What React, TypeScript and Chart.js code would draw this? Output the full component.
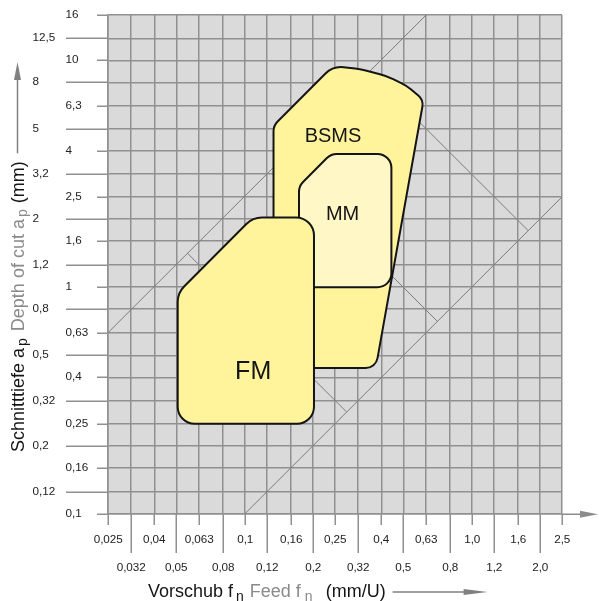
import { useEffect, useRef } from 'react';
import { Chart, registerables } from 'chart.js';

Chart.register(...registerables);

// Feed axis: R10 steps and the printed labels
const FEED_TICKS = [0.025, 0.0315, 0.04, 0.05, 0.063, 0.08, 0.1, 0.125, 0.16, 0.2, 0.25, 0.315, 0.4, 0.5, 0.63, 0.8, 1.0, 1.25, 1.6, 2.0, 2.5];
const FEED_LABELS = ['0,025', '0,032', '0,04', '0,05', '0,063', '0,08', '0,1', '0,12', '0,16', '0,2', '0,25', '0,32', '0,4', '0,5', '0,63', '0,8', '1,0', '1,2', '1,6', '2,0', '2,5'];

// Depth-of-cut axis: R10 steps and the printed labels
const DEPTH_TICKS = [0.1, 0.125, 0.16, 0.2, 0.25, 0.315, 0.4, 0.5, 0.63, 0.8, 1.0, 1.25, 1.6, 2.0, 2.5, 3.15, 4.0, 5.0, 6.3, 8.0, 10, 12.5, 15.85];
const DEPTH_LABELS = ['0,1', '0,12', '0,16', '0,2', '0,25', '0,32', '0,4', '0,5', '0,63', '0,8', '1', '1,2', '1,6', '2', '2,5', '3,2', '4', '5', '6,3', '8', '10', '12,5', '16'];

// Application areas: outline vertices (feed mm/U, depth mm)
const BSMS_FEED = [0.134, 0.134, 0.245, 0.322, 0.424, 0.519, 0.614, 0.378];
const BSMS_DEPTH = [0.44, 5.16, 9.45, 9.16, 8.53, 7.71, 6.69, 0.44];
const MM_FEED = [0.1735, 0.1735, 0.24, 0.443, 0.443];
const MM_DEPTH = [1.0, 2.79, 3.87, 3.87, 1.0];
const FM_FEED = [0.0507, 0.202, 0.202, 0.1086, 0.0507];
const FM_DEPTH = [0.25, 0.25, 2.03, 2.03, 0.943];

// Area names and where they are written
const AREA_NAMES = ['BSMS', 'MM', 'FM'];
const AREA_LABEL_FEED = [0.245, 0.27, 0.109];
const AREA_LABEL_DEPTH = [4.62, 2.1, 0.421];

// Thin guide lines (start / end)
const GUIDE_FEED = [[0.025, 0.63], [0.1, 2.5], [0.056, 0.281], [0.353, 1.77], [0.141, 0.705]];
const GUIDE_DEPTH = [[0.63, 15.85], [0.1, 2.5], [1.41, 0.282], [8.9, 1.78], [3.55, 0.708]];

const FONT = '"Liberation Sans", Arial, Helvetica, sans-serif';
const GRID = '#909090';
const GREY_TEXT = '#8a8a8a';
const INK = '#151515';

function roundedPath(ctx: CanvasRenderingContext2D, pts: { x: number; y: number }[], radii: number[]) {
  const n = pts.length;
  const last = pts[n - 1];
  const first = pts[0];
  ctx.beginPath();
  ctx.moveTo((last.x + first.x) / 2, (last.y + first.y) / 2);
  for (let i = 0; i < n; i++) {
    const p = pts[i];
    const next = pts[(i + 1) % n];
    ctx.arcTo(p.x, p.y, next.x, next.y, radii[i]);
  }
  ctx.closePath();
}

type Seg = { t: string; c: string; sub?: boolean; gap?: number };

// Writes a run of text pieces along +x from the current origin, returns the end position
function drawRun(ctx: CanvasRenderingContext2D, segs: Seg[], size: number, subSize: number, subDrop: number) {
  let x = 0;
  ctx.textBaseline = 'alphabetic';
  ctx.textAlign = 'left';
  for (const s of segs) {
    x += s.gap || 0;
    ctx.font = `${s.sub ? subSize : size}px ${FONT}`;
    ctx.fillStyle = s.c;
    ctx.fillText(s.t, x, s.sub ? subDrop : 0);
    x += ctx.measureText(s.t).width;
  }
  return x;
}

function arrow(ctx: CanvasRenderingContext2D, x0: number, x1: number, headLen: number, half: number, color: string) {
  // along +x of the current transform, at y = 0
  ctx.strokeStyle = color;
  ctx.fillStyle = color;
  ctx.lineWidth = 1.5;
  ctx.beginPath();
  ctx.moveTo(x0, 0);
  ctx.lineTo(x1 - headLen + 1, 0);
  ctx.stroke();
  ctx.beginPath();
  ctx.moveTo(x1, 0);
  ctx.lineTo(x1 - headLen, -half);
  ctx.lineTo(x1 - headLen, half);
  ctx.closePath();
  ctx.fill();
}

const decor = {
  id: 'decor',
  beforeDraw(chart: any) {
    const { ctx, chartArea: a } = chart;
    ctx.save();
    ctx.fillStyle = '#dadada';
    ctx.fillRect(a.left, a.top, a.right - a.left, a.bottom - a.top);
    ctx.restore();
  },
  afterDatasetsDraw(chart: any) {
    const ctx: CanvasRenderingContext2D = chart.ctx;
    chart.data.datasets.forEach((ds: any, i: number) => {
      if (!ds.areaFill) return;
      const pts = chart.getDatasetMeta(i).data.map((p: any) => ({ x: p.x, y: p.y }));
      ctx.save();
      roundedPath(ctx, pts, ds.areaRadii);
      ctx.fillStyle = ds.areaFill;
      ctx.fill();
      ctx.lineWidth = 2;
      ctx.lineJoin = 'round';
      ctx.strokeStyle = INK;
      ctx.stroke();
      ctx.restore();
    });
    const xs = chart.scales.x;
    const ys = chart.scales.y;
    const sizes = [20, 20, 25];
    ctx.save();
    ctx.fillStyle = INK;
    ctx.textAlign = 'center';
    ctx.textBaseline = 'middle';
    AREA_NAMES.forEach((name, i) => {
      ctx.font = `${sizes[i]}px ${FONT}`;
      ctx.fillText(name, xs.getPixelForValue(AREA_LABEL_FEED[i]), ys.getPixelForValue(AREA_LABEL_DEPTH[i]));
    });
    ctx.restore();
  },
  afterDraw(chart: any) {
    const ctx: CanvasRenderingContext2D = chart.ctx;
    const { chartArea: a } = chart;
    const xs = chart.scales.x;
    const ys = chart.scales.y;
    ctx.save();
    ctx.strokeStyle = GRID;
    ctx.lineWidth = 1.5;
    ctx.fillStyle = '#222';
    ctx.font = `11.7px ${FONT}`;

    // feed ticks, staggered in two rows
    FEED_TICKS.forEach((v, i) => {
      const px = Math.round(xs.getPixelForValue(v)) + 0.25;
      const long = i % 2 === 1;
      ctx.beginPath();
      ctx.moveTo(px, a.bottom);
      ctx.lineTo(px, a.bottom + (long ? 39 : 11));
      ctx.stroke();
      ctx.textAlign = 'center';
      ctx.textBaseline = 'middle';
      ctx.fillText(FEED_LABELS[i], px, a.bottom + (long ? 54 : 26));
    });

    // depth ticks, staggered in two columns
    DEPTH_TICKS.forEach((v, i) => {
      const py = Math.round(ys.getPixelForValue(v)) + 0.25;
      const long = i % 2 === 1;
      ctx.beginPath();
      ctx.moveTo(a.left - (long ? 42 : 11), py);
      ctx.lineTo(a.left, py);
      ctx.stroke();
      ctx.textAlign = 'left';
      ctx.textBaseline = 'middle';
      ctx.fillText(DEPTH_LABELS[i], long ? 32.5 : 65.5, py);
    });

    // feed axis arrow
    ctx.save();
    ctx.translate(a.right, Math.round(a.bottom) + 0.25);
    arrow(ctx, 0, 36, 18, 3.5, '#8c8c8c');
    ctx.restore();

    // feed axis title
    ctx.save();
    ctx.translate(148, 597);
    const endX = drawRun(ctx, [
      { t: 'Vorschub f', c: INK },
      { t: 'n', c: INK, sub: true, gap: 3 },
      { t: 'Feed f', c: GREY_TEXT, gap: 6 },
      { t: 'n', c: GREY_TEXT, sub: true, gap: 4 },
      { t: '(mm/U)', c: INK, gap: 13 },
    ], 18, 14, 3.5);
    ctx.translate(0, -5);
    arrow(ctx, endX + 7, endX + 102, 24, 3, '#808080');
    ctx.restore();

    // depth axis title, reading upwards
    ctx.save();
    ctx.translate(24, 452);
    ctx.rotate(-Math.PI / 2);
    const endY = drawRun(ctx, [
      { t: 'Schnitttiefe a', c: INK },
      { t: 'p', c: INK, sub: true, gap: 2 },
      { t: 'Depth of cut a', c: GREY_TEXT, gap: 7 },
      { t: 'p', c: GREY_TEXT, sub: true, gap: 2 },
      { t: '(mm)', c: INK, gap: 6 },
    ], 18, 14, 3);
    ctx.translate(0, -6.5);
    arrow(ctx, endY + 8, 390, 18, 3.5, '#808080');
    ctx.restore();

    ctx.restore();
  },
};

export default function App() {
  const ref = useRef<HTMLCanvasElement>(null);

  useEffect(() => {
    const canvas = ref.current;
    if (!canvas) return;

    const guides = GUIDE_FEED.map((xsArr, i) => ({
      data: xsArr.map((x, j) => ({ x, y: GUIDE_DEPTH[i][j] })),
      showLine: true,
      borderColor: '#7c7c7c',
      borderWidth: 1,
      pointRadius: 0,
    }));

    const area = (feed: number[], depth: number[], fill: string, radii: number[]) => ({
      data: feed.map((x, j) => ({ x, y: depth[j] })),
      showLine: false,
      pointRadius: 0,
      pointHoverRadius: 0,
      areaFill: fill,
      areaRadii: radii,
    });

    const chart = new Chart(canvas, {
      type: 'scatter',
      data: {
        datasets: [
          ...guides,
          area(BSMS_FEED, BSMS_DEPTH, '#fff49b', [4, 14, 22, 70, 70, 45, 12, 12]),
          area(MM_FEED, MM_DEPTH, '#fff7c6', [4, 14, 14, 14, 14]),
          area(FM_FEED, FM_DEPTH, '#fff49b', [17, 17, 18, 22, 22]),
        ] as any,
      },
      options: {
        animation: false,
        responsive: false,
        events: [],
        devicePixelRatio: 1,
        layout: { padding: { top: 15, right: 37, left: 0, bottom: 0 } },
        plugins: { legend: { display: false }, tooltip: { enabled: false } },
        scales: {
          x: {
            type: 'logarithmic',
            min: FEED_TICKS[0],
            max: FEED_TICKS[FEED_TICKS.length - 1],
            afterBuildTicks: (scale: any) => {
              scale.ticks = FEED_TICKS.map((value) => ({ value }));
            },
            afterFit: (scale: any) => {
              scale.height = 87;
            },
            ticks: { display: false },
            grid: { color: GRID, lineWidth: 1.5, drawTicks: false },
            border: { color: GRID, width: 1.5 },
          },
          y: {
            type: 'logarithmic',
            min: DEPTH_TICKS[0],
            max: DEPTH_TICKS[DEPTH_TICKS.length - 1],
            afterBuildTicks: (scale: any) => {
              scale.ticks = DEPTH_TICKS.map((value) => ({ value }));
            },
            afterFit: (scale: any) => {
              scale.width = 108;
            },
            ticks: { display: false },
            grid: { color: GRID, lineWidth: 1.5, drawTicks: false },
            border: { color: GRID, width: 1.5 },
          },
        },
      } as any,
      plugins: [decor],
    });

    return () => chart.destroy();
  }, []);

  return (
    <canvas
      ref={ref}
      width={599}
      height={601}
      style={{ position: 'fixed', left: 0, top: 0, width: 599, height: 601, display: 'block' }}
    />
  );
}
